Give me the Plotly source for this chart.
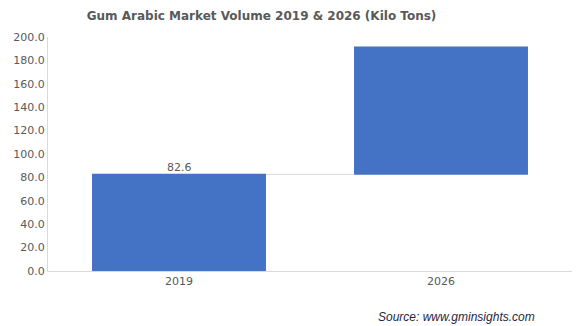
import plotly.graph_objects as go

years = ["2019", "2026"]
volume = [82.6, 191.5]  # kilo tons
measures = ["absolute", "relative"]
label_2019 = "82.6"

increments = [volume[0], round(volume[1] - volume[0], 1)]

bar_color = "#4472C4"
text_color = "#595959"
axis_color = "#D9D9D9"

fig = go.Figure(
    go.Waterfall(
        x=years,
        y=increments,
        measure=measures,
        increasing=dict(marker=dict(color=bar_color)),
        decreasing=dict(marker=dict(color=bar_color)),
        totals=dict(marker=dict(color=bar_color)),
        connector=dict(mode="between", line=dict(color=axis_color, width=1)),
        hoverinfo="skip",
    )
)

fig.update_layout(
    width=581,
    height=326,
    margin=dict(l=48, r=9, t=37, b=55),
    paper_bgcolor="white",
    plot_bgcolor="white",
    showlegend=False,
    waterfallgap=0.336,
    title=dict(
        text="<b>Gum Arabic Market Volume 2019 &amp; 2026 (Kilo Tons)</b>",
        x=261.5 / 581,
        xanchor="center",
        xref="container",
        y=1 - 16 / 326,
        yanchor="middle",
        font=dict(family="DejaVu Sans", size=12, color=text_color),
    ),
    font=dict(family="DejaVu Sans", size=11, color=text_color),
)

fig.update_xaxes(
    type="category",
    categoryorder="array",
    categoryarray=years,
    showline=True,
    linecolor=axis_color,
    linewidth=1,
    ticks="",
    showgrid=False,
    tickfont=dict(family="DejaVu Sans", size=11, color=text_color),
)

fig.update_yaxes(
    range=[0, 200],
    dtick=20,
    tickformat=".1f",
    showline=True,
    linecolor=axis_color,
    linewidth=1,
    showgrid=False,
    zeroline=False,
    ticks="",
    tickfont=dict(family="DejaVu Sans", size=11, color=text_color),
)

# value label above the 2019 bar (category index 0)
fig.add_annotation(
    x=0,
    y=volume[0],
    text=label_2019,
    showarrow=False,
    yanchor="middle",
    yshift=7,
    font=dict(family="DejaVu Sans", size=11, color=text_color),
)

fig.add_annotation(
    text="<i>Source: www.gminsights.com</i>",
    xref="paper",
    yref="paper",
    x=(537 - 48) / (572 - 48),
    xanchor="right",
    y=-(317 - 271) / 234,
    yanchor="middle",
    showarrow=False,
    font=dict(family="Liberation Sans", size=12, color="#1F1F3F"),
)

fig.write_html("out.html")
